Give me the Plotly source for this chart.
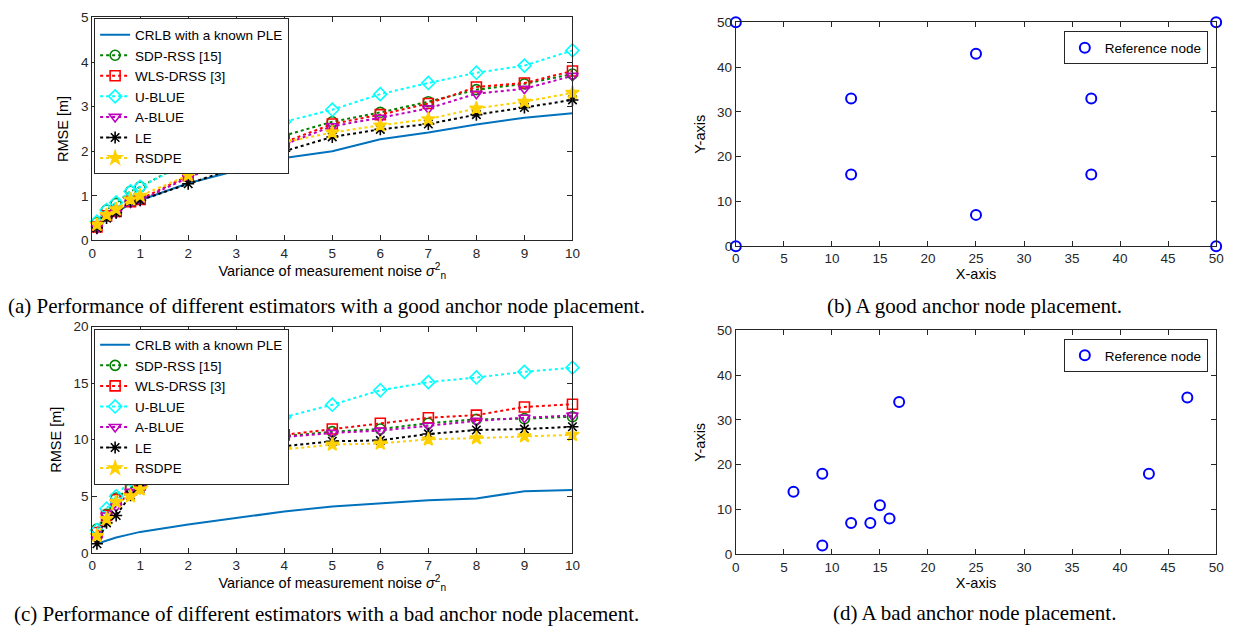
import plotly.graph_objects as go

# ---------------- data ----------------
noise_var = [0.1, 0.3, 0.5, 0.8, 1, 2, 3, 4, 5, 6, 7, 8, 9, 10]

series_names = ["CRLB with a known PLE", "SDP-RSS [15]", "WLS-DRSS [3]",
                "U-BLUE", "A-BLUE", "LE", "RSDPE"]

# (a) good anchor placement
good_crlb = [0.27, 0.48, 0.62, 0.83, 0.9, 1.28, 1.56, 1.85, 2.0, 2.27, 2.42, 2.6, 2.75, 2.85]
good_sdp = [0.4, 0.68, 0.83, 1.1, 1.2, 1.77, 2.13, 2.35, 2.66, 2.87, 3.11, 3.38, 3.51, 3.73]
good_wls = [0.3, 0.55, 0.65, 0.87, 0.92, 1.45, 1.85, 2.2, 2.61, 2.82, 3.07, 3.44, 3.53, 3.8]
good_ublue = [0.42, 0.68, 0.85, 1.1, 1.2, 1.75, 2.05, 2.66, 2.93, 3.28, 3.53, 3.76, 3.92, 4.26]
good_ablue = [0.27, 0.55, 0.62, 0.85, 0.9, 1.41, 1.83, 2.15, 2.56, 2.75, 2.96, 3.29, 3.4, 3.69]
good_le = [0.28, 0.5, 0.62, 0.87, 0.9, 1.27, 1.63, 2.0, 2.32, 2.49, 2.61, 2.82, 2.98, 3.15]
good_rsdpe = [0.35, 0.57, 0.7, 0.92, 1.0, 1.46, 1.82, 2.2, 2.42, 2.58, 2.72, 2.96, 3.11, 3.31]

# (c) bad anchor placement
bad_crlb = [0.8, 1.1, 1.35, 1.65, 1.85, 2.5, 3.1, 3.65, 4.1, 4.35, 4.65, 4.8, 5.45, 5.55]
bad_sdp = [2.1, 3.4, 4.85, 5.7, 6.3, 8.6, 9.43, 10.3, 10.71, 10.94, 11.46, 11.8, 11.86, 12.03]
bad_wls = [1.8, 3.3, 4.7, 5.6, 6.0, 8.5, 9.3, 10.43, 10.94, 11.46, 11.94, 12.17, 12.89, 13.14]
bad_ublue = [2.0, 3.9, 5.0, 6.47, 6.6, 9.14, 10.8, 12.0, 13.09, 14.37, 15.09, 15.5, 16.0, 16.37]
bad_ablue = [1.2, 3.3, 4.1, 5.4, 5.9, 8.3, 9.0, 10.23, 10.6, 10.8, 11.23, 11.66, 11.94, 12.14]
bad_le = [0.8, 2.65, 3.3, 5.1, 5.7, 8.0, 8.57, 9.43, 9.86, 9.94, 10.51, 10.86, 10.94, 11.14]
bad_rsdpe = [1.5, 3.0, 4.5, 5.0, 5.6, 7.57, 8.23, 9.14, 9.57, 9.66, 10.03, 10.14, 10.31, 10.43]

# (b) good anchor node placement
good_nodes_x = [0, 0, 50, 50, 12, 12, 25, 25, 37, 37]
good_nodes_y = [0, 50, 0, 50, 16, 33, 7, 43, 16, 33]

# (d) bad anchor node placement
bad_nodes_x = [6, 9, 9, 12, 14, 15, 16, 17, 43, 47]
bad_nodes_y = [14, 18, 2, 7, 7, 11, 8, 34, 18, 35]

captions = [
    "(a) Performance of different estimators with a good anchor node placement.",
    "(b) A good anchor node placement.",
    "(c) Performance of different estimators with a bad anchor node placement.",
    "(d) A bad anchor node placement.",
]

# ---------------- styles ----------------
styles = [
    dict(color="#0072BD", symbol=None, dash="solid"),
    dict(color="#008000", symbol="circle-open", dash="dot"),
    dict(color="#FF0000", symbol="square-open", dash="dot"),
    dict(color="#00FFFF", symbol="diamond-open", dash="dot"),
    dict(color="#BF00BF", symbol="triangle-down-open", dash="dot"),
    dict(color="#000000", symbol="asterisk-open", dash="dot"),
    dict(color="#FFD100", symbol="star", dash="dot"),
]

W, H = 1240, 636
def xd(a, b):
    return [a / W, b / W]
def yd(top, bottom):
    return [1 - bottom / H, 1 - top / H]

AX_COLOR = "#262626"
SANS = "Liberation Sans, Arial, Helvetica, sans-serif"
TICK_FONT = dict(family=SANS, size=13.5, color=AX_COLOR)
TITLE_FONT = dict(family=SANS, size=14.5, color="#000000")

fig = go.Figure()

def add_rmse(data, xa, ya, legend_name):
    for name, vals, st in zip(series_names, data, styles):
        if st["symbol"] is None:
            fig.add_trace(go.Scatter(
                x=noise_var, y=vals, name=name, mode="lines",
                line=dict(color=st["color"], width=2, dash=st["dash"]),
                xaxis=xa, yaxis=ya, legend=legend_name, cliponaxis=False))
        else:
            fig.add_trace(go.Scatter(
                x=noise_var, y=vals, name=name, mode="lines+markers",
                line=dict(color=st["color"], width=2, dash=st["dash"]),
                marker=dict(symbol=st["symbol"], size=10, color=st["color"],
                            line=dict(color=st["color"], width=1.6)),
                xaxis=xa, yaxis=ya, legend=legend_name, cliponaxis=False))

add_rmse([good_crlb, good_sdp, good_wls, good_ublue, good_ablue, good_le, good_rsdpe],
         "x", "y", "legend")
add_rmse([bad_crlb, bad_sdp, bad_wls, bad_ublue, bad_ablue, bad_le, bad_rsdpe],
         "x3", "y3", "legend3")

node_marker = dict(symbol="circle-open", size=10, color="#0000FF",
                   line=dict(width=2, color="#0000FF"))
fig.add_trace(go.Scatter(
    x=good_nodes_x, y=good_nodes_y, mode="markers", name="Reference node",
    marker=node_marker, xaxis="x2", yaxis="y2", legend="legend2", cliponaxis=False))
fig.add_trace(go.Scatter(
    x=bad_nodes_x, y=bad_nodes_y, mode="markers", name="Reference node",
    marker=node_marker, xaxis="x4", yaxis="y4", legend="legend4", cliponaxis=False))

def axis_common():
    return dict(showline=True, linecolor=AX_COLOR, linewidth=1, mirror="ticks",
                ticks="inside", ticklen=5, tickcolor=AX_COLOR, tickwidth=1,
                showgrid=False, zeroline=False, tickfont=TICK_FONT,
                title_font=TITLE_FONT)

sigma_title = "Variance of measurement noise <i>σ</i><sup>2</sup><sub>n</sub>"

LX0, LX1 = 89, 574
RX0, RX1 = 739, 1224

fig.update_layout(
    width=W, height=H, margin=dict(l=0, r=0, t=0, b=0),
    paper_bgcolor="white", plot_bgcolor="white", showlegend=True,
    xaxis=dict(domain=xd(LX0, LX1), range=[0, 10], dtick=1, anchor="y",
               title=dict(text=sigma_title, standoff=1), **axis_common()),
    yaxis=dict(domain=yd(10.7, 239), range=[0, 5], dtick=1, anchor="x",
               title=dict(text="RMSE [m]", standoff=8), **axis_common()),
    xaxis3=dict(domain=xd(LX0, LX1), range=[0, 10], dtick=1, anchor="y3",
                title=dict(text=sigma_title, standoff=1), **axis_common()),
    yaxis3=dict(domain=yd(327.3, 559), range=[0, 20], dtick=5, anchor="x3",
                title=dict(text="RMSE [m]", standoff=8), **axis_common()),
    xaxis2=dict(domain=xd(RX0, RX1), range=[0, 50], dtick=5, anchor="y2",
                title=dict(text="X-axis", standoff=1), **axis_common()),
    yaxis2=dict(domain=yd(15.7, 245), range=[0, 50], dtick=10, anchor="x2",
                title=dict(text="Y-axis", standoff=8), **axis_common()),
    xaxis4=dict(domain=xd(RX0, RX1), range=[0, 50], dtick=5, anchor="y4",
                title=dict(text="X-axis", standoff=1), **axis_common()),
    yaxis4=dict(domain=yd(331, 560.7), range=[0, 50], dtick=10, anchor="x4",
                title=dict(text="Y-axis", standoff=8), **axis_common()),
)

leg_common = dict(bgcolor="white", bordercolor="#262626", borderwidth=1,
                  font=dict(family=SANS, size=13.5, color="#000000"),
                  xref="paper", yref="paper", tracegroupgap=0, itemwidth=30)
fig.update_layout(
    legend=dict(x=91 / W, y=1 - 11.7 / H, xanchor="left", yanchor="top", **leg_common),
    legend3=dict(x=91 / W, y=1 - 329.3 / H, xanchor="left", yanchor="top", **leg_common),
    legend2=dict(x=1215.6 / W, y=1 - 25 / H, xanchor="right", yanchor="top", **leg_common),
    legend4=dict(x=1215.6 / W, y=1 - 340 / H, xanchor="right", yanchor="top", **leg_common),
)

cap_font = dict(family="Liberation Serif, Times New Roman, serif", size=21, color="#000000")
cap_pos = [(326, 306), (980, 306), (326, 622), (980, 621)]
for text, (cx, cy) in zip(captions, cap_pos):
    fig.add_annotation(text=text, x=cx / W, y=1 - cy / H, xref="paper", yref="paper",
                       showarrow=False, xanchor="center", yanchor="middle", font=cap_font)

fig.write_html("out.html", config={"displayModeBar": False},
               post_script="document.body.style.margin='0';")
